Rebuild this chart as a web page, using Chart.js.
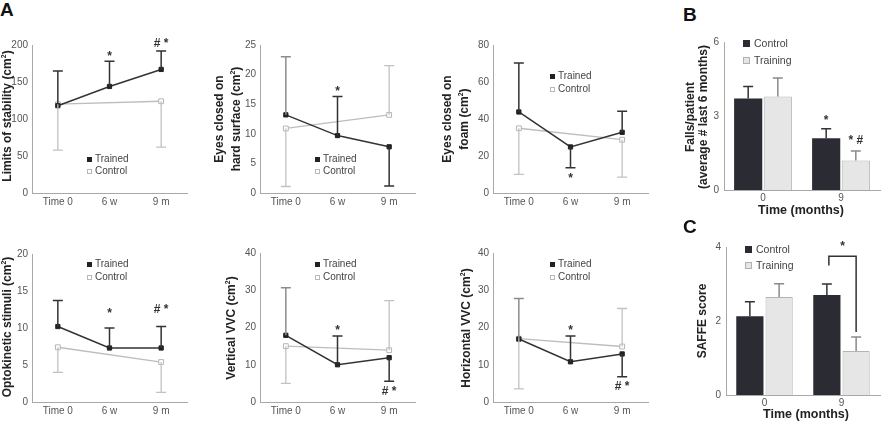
<!DOCTYPE html>
<html><head><meta charset="utf-8">
<script src="https://cdn.jsdelivr.net/npm/chart.js@4.4.1/dist/chart.umd.min.js"></script>
<style>
html,body{margin:0;padding:0;background:#fff;overflow:hidden}
#wrap{position:relative;width:884px;height:424px;font-family:'Liberation Sans',Arial,sans-serif;color:#333}
canvas{position:absolute}
.pl{position:absolute;font-weight:bold;font-size:19px;color:#111;line-height:19px}
.yt{position:absolute;white-space:nowrap;font-weight:bold;font-size:12px;line-height:13px;text-align:center;color:#222;transform:translate(-50%,-50%) rotate(-90deg)}
.xt{position:absolute;white-space:nowrap;font-weight:bold;font-size:12.5px;color:#222;transform:translate(-50%,-50%)}
.lg{position:absolute;font-size:10px;color:#444;white-space:nowrap;transform:translateY(-50%);line-height:12px}
.lg i{display:inline-block;box-sizing:border-box;width:5px;height:5px;margin-right:3px;vertical-align:0px}
.lg i.tr{background:#222}
.lg i.co{background:#fff;border:1px solid #b8b8b8}
.bl{font-size:10.5px}
.bl i{width:7px;height:7px;margin-right:4px}
.bl i.tr{background:#2b2b33}
.bl i.co{background:#e6e6e6;border:1px solid #b0b0b0}
</style>
</head><body>
<div id="wrap"></div>
<script>
// ---------- DATA ----------
const timeLabels = ['Time 0', '6 w', '9 m'];
// SD values: positive = bar drawn above the mean, negative = drawn below
const losTrained = [118, 144, 167];
const losTrainedSD = [47, 34, 25];
const losControl = [120, null, 124];
const losControlSD = [-62, null, -62];
const losSig = ['', '*', '# *'];
const losSigAt = [null, 190, 203];

const hardTrained = [13.2, 9.7, 7.8];
const hardTrainedSD = [9.8, 6.6, -6.6];
const hardControl = [10.9, null, 13.2];
const hardControlSD = [-9.8, null, 8.3];
const hardSig = ['', '*', ''];
const hardSigAt = [null, 17.7, null];

const foamTrained = [43.8, 24.9, 32.8];
const foamTrainedSD = [26.5, -11.2, 11.4];
const foamControl = [35, null, 28.8];
const foamControlSD = [-24.9, null, -20.2];
const foamSig = ['', '*', ''];
const foamSigAt = [null, 10.0, null];

const optoTrained = [10.2, 7.3, 7.3];
const optoTrainedSD = [3.5, 2.7, 2.9];
const optoControl = [7.4, null, 5.4];
const optoControlSD = [-3.4, null, -4.1];
const optoSig = ['', '*', '# *'];
const optoSigAt = [null, 12.4, 12.6];

const vertTrained = [17.9, 10.0, 11.9];
const vertTrainedSD = [12.8, 7.7, -6.3];
const vertControl = [15.0, null, 13.9];
const vertControlSD = [-10.0, null, 13.3];
const vertSig = ['', '*', '# *'];
const vertSigAt = [null, 20.1, 3.2];

const horTrained = [16.9, 10.8, 12.9];
const horTrainedSD = [10.9, 6.9, -6.1];
const horControl = [17.0, null, 14.9];
const horControlSD = [-13.5, null, 10.2];
const horSig = ['', '*', '# *'];
const horSigAt = [null, 20.1, 4.4];

const monthLabels = ['0', '9'];
const fallsControl = [3.71, 2.10];
const fallsControlSD = [0.49, 0.38];
const fallsTraining = [3.79, 1.20];
const fallsTrainingSD = [0.75, 0.38];
const fallsSigControl = ['', '*'];
const fallsSigControlAt = [null, 2.98];
const fallsSigTraining = ['', '* #'];
const fallsSigTrainingAt = [null, 2.03];

const saffeControl = [2.13, 2.70];
const saffeControlSD = [0.39, 0.30];
const saffeTraining = [2.65, 1.19];
const saffeTrainingSD = [0.36, 0.38];
const saffeBracket = [3.75, 3.5, 1.7];   // top, left end, right end
const saffeBracketSigAt = 4.12;

// ---------- RENDERING ----------
const F = "'Liberation Sans', Arial, sans-serif";
const wrap = document.getElementById('wrap');

const errPlugin = {
  id: 'errbars',
  afterDatasetsDraw(chart, args, opts) {
    const ctx = chart.ctx, ys = chart.scales.y;
    chart.data.datasets.forEach((ds, di) => {
      if (!ds.err) return;
      const meta = chart.getDatasetMeta(di);
      meta.data.forEach((el, i) => {
        const v = ds.data[i], e = ds.err[i];
        if (v == null || e == null) return;
        const x = el.x, y0 = ys.getPixelForValue(v), y1 = ys.getPixelForValue(v + e);
        ctx.save();
        ctx.strokeStyle = (ds.errColors && ds.errColors[i]) || ds.errColor;
        ctx.lineWidth = ds.errWidth || 1.5;
        ctx.beginPath();
        ctx.moveTo(x, y0); ctx.lineTo(x, y1);
        ctx.moveTo(x - 5, y1); ctx.lineTo(x + 5, y1);
        ctx.stroke();
        ctx.restore();
      });
    });
    const sig = (opts && opts.sig) || [];
    sig.forEach(s => {
      const meta = chart.getDatasetMeta(s.ds);
      (s.text || []).forEach((t, i) => {
        if (!t) return;
        const x = meta.data[i].x;
        const y = ys.getPixelForValue(s.at[i]);
        ctx.save();
        ctx.font = 'bold 12px ' + F;
        ctx.fillStyle = '#333';
        ctx.textAlign = 'center';
        ctx.textBaseline = 'alphabetic';
        const onlyStar = t.trim() === '*';
        ctx.fillText(t, x, y + (onlyStar ? 0.6 : 0.38) * 12);
        ctx.restore();
      });
    });
    const br = opts && opts.bracket;
    if (br) {
      const xl = chart.getDatasetMeta(br.from[0]).data[br.from[1]].x + 2;
      const xr = chart.getDatasetMeta(br.to[0]).data[br.to[1]].x;
      const yt = ys.getPixelForValue(br.vals[0]);
      ctx.save();
      ctx.strokeStyle = '#333'; ctx.lineWidth = 1.5;
      ctx.beginPath();
      ctx.moveTo(xl, ys.getPixelForValue(br.vals[1]));
      ctx.lineTo(xl, yt); ctx.lineTo(xr, yt);
      ctx.lineTo(xr, ys.getPixelForValue(br.vals[2]));
      ctx.stroke();
      ctx.font = 'bold 12px ' + F; ctx.fillStyle = '#333'; ctx.textAlign = 'center';
      ctx.fillText('*', (xl + xr) / 2, ys.getPixelForValue(br.sigAt) + 0.6 * 12);
      ctx.restore();
    }
  }
};

function makeCanvas(area, YW, PT, PR, XH) {
  const c = document.createElement('canvas');
  const cx = area[0] - YW, cy = area[1] - PT;
  const cw = Math.round(area[2] - area[0] + YW + PR), ch = Math.round(area[3] - area[1] + PT + XH);
  c.width = cw; c.height = ch;
  c.style.left = cx + 'px'; c.style.top = cy + 'px';
  c.style.width = cw + 'px'; c.style.height = ch + 'px';
  wrap.appendChild(c);
  return c;
}

function scaleOpts(YW, XH, yMax, yStep, xPad, yPad) {
  return {
    x: { type: 'category', offset: true, grid: { display: false, drawTicks: false },
         border: { display: true, color: '#a8a8a8', width: 1 },
         ticks: { font: { size: 10, family: F }, color: '#555', padding: xPad, maxRotation: 0, autoSkip: false },
         afterFit(s) { s.height = XH; } },
    y: { min: 0, max: yMax, grid: { display: false, drawTicks: false },
         border: { display: true, color: '#a8a8a8', width: 1 },
         ticks: { stepSize: yStep, font: { size: 10, family: F }, color: '#555', padding: yPad },
         afterFit(s) { s.width = YW; } }
  };
}

function lineChart(area, yMax, yStep, tr, trSD, co, coSD, sig, sigAt, t0Gray) {
  const YW = 30, PT = 22, PR = 12, XH = 20;
  const c = makeCanvas(area, YW, PT, PR, XH);
  const trErrColors = trSD.map((v, i) => (i === 0 && t0Gray) ? '#8c8c8c' : '#333');
  new Chart(c, {
    type: 'line',
    data: {
      labels: timeLabels,
      datasets: [
        { label: 'Trained', data: tr, err: trSD, errColor: '#333', errColors: trErrColors, errWidth: 1.5,
          borderColor: '#333', borderWidth: 1.5, pointStyle: 'rect', pointRadius: 3,
          pointBackgroundColor: '#222', pointBorderColor: '#222', pointBorderWidth: 1, tension: 0, spanGaps: true },
        { label: 'Control', data: co, err: coSD, errColor: '#c2c2c2', errWidth: 1.3,
          borderColor: '#bdbdbd', borderWidth: 1.3, pointStyle: 'rect', pointRadius: 3.4,
          pointBackgroundColor: '#fff', pointBorderColor: '#b5b5b5', pointBorderWidth: 1, tension: 0, spanGaps: true }
      ]
    },
    options: {
      responsive: false, animation: false, events: [],
      layout: { padding: { left: 0, top: PT, right: PR, bottom: 0 } },
      plugins: { legend: { display: false }, tooltip: { enabled: false },
                 errbars: { sig: [{ ds: 0, text: sig, at: sigAt }] } },
      scales: scaleOpts(YW, XH, yMax, yStep, 3, 4)
    },
    plugins: [errPlugin]
  });
}

function barChart(area, yMax, yStep, ctl, ctlSD, trn, trnSD, sig, bracket, barPct) {
  const YW = 30, PT = 12, PR = 4, XH = 16;
  const c = makeCanvas(area, YW, PT, PR, XH);
  new Chart(c, {
    type: 'bar',
    data: {
      labels: monthLabels,
      datasets: [
        { label: 'Control', data: ctl, err: ctlSD, errColor: '#333', errWidth: 1.5,
          backgroundColor: '#2b2b33', borderColor: '#2b2b33', borderWidth: 0,
          categoryPercentage: 0.76, barPercentage: barPct },
        { label: 'Training', data: trn, err: trnSD, errColor: '#8a8a8a', errWidth: 1.5,
          backgroundColor: '#e6e6e6', borderColor: '#b4b4b4', borderWidth: 1,
          categoryPercentage: 0.76, barPercentage: barPct }
      ]
    },
    options: {
      responsive: false, animation: false, events: [],
      layout: { padding: { left: 0, top: PT, right: PR, bottom: 0 } },
      plugins: { legend: { display: false }, tooltip: { enabled: false },
                 errbars: { sig: sig, bracket: bracket } },
      scales: scaleOpts(YW, XH, yMax, yStep, 2, 5)
    },
    plugins: [errPlugin]
  });
}

// Panel A
lineChart([32, 45, 186.5, 193], 200, 50, losTrained, losTrainedSD, losControl, losControlSD, losSig, losSigAt, false);
lineChart([260, 45, 414.5, 193], 25, 5, hardTrained, hardTrainedSD, hardControl, hardControlSD, hardSig, hardSigAt, true);
lineChart([493, 45, 648, 193], 80, 20, foamTrained, foamTrainedSD, foamControl, foamControlSD, foamSig, foamSigAt, false);
lineChart([32, 254, 186.5, 402], 20, 5, optoTrained, optoTrainedSD, optoControl, optoControlSD, optoSig, optoSigAt, false);
lineChart([260, 253.3, 414.5, 402], 40, 10, vertTrained, vertTrainedSD, vertControl, vertControlSD, vertSig, vertSigAt, true);
lineChart([493, 253.3, 648, 402], 40, 10, horTrained, horTrainedSD, horControl, horControlSD, horSig, horSigAt, true);

// Panel B
barChart([724, 42.3, 880, 190], 6, 3, fallsControl, fallsControlSD, fallsTraining, fallsTrainingSD,
  [{ ds: 0, text: fallsSigControl, at: fallsSigControlAt }, { ds: 1, text: fallsSigTraining, at: fallsSigTrainingAt }], null, 0.95);
// Panel C
barChart([726, 246.7, 880, 395], 4, 2, saffeControl, saffeControlSD, saffeTraining, saffeTrainingSD,
  [], { from: [0, 1], to: [1, 1], vals: saffeBracket, sigAt: saffeBracketSigAt }, 0.93);

// ---------- TEXT ----------
function add(cls, html, style) {
  const d = document.createElement('div');
  d.className = cls; d.innerHTML = html;
  Object.assign(d.style, style);
  wrap.appendChild(d);
}
add('pl', 'A', { left: '0px', top: '0px' });
add('pl', 'B', { left: '683px', top: '5px' });
add('pl', 'C', { left: '683px', top: '217px' });

add('yt', 'Limits of stability (cm<sup style="font-size:7px">2</sup>)', { left: '5px', top: '116px' });
add('yt', 'Eyes closed on<br>hard surface (cm<sup style="font-size:7px">2</sup>)', { left: '228px', top: '119px' });
add('yt', 'Eyes closed on<br>foam (cm<sup style="font-size:7px">2</sup>)', { left: '456px', top: '119px' });
add('yt', 'Optokinetic stimuli (cm<sup style="font-size:7px">2</sup>)', { left: '5px', top: '327px' });
add('yt', 'Vertical VVC (cm<sup style="font-size:7px">2</sup>)', { left: '229px', top: '328px' });
add('yt', 'Horizontal VVC (cm<sup style="font-size:7px">2</sup>)', { left: '464px', top: '328px' });
add('yt', 'Falls/patient<br>(average # last 6 months)', { left: '697px', top: '117px' });
add('yt', 'SAFFE score', { left: '702px', top: '321px' });
add('xt', 'Time (months)', { left: '801px', top: '210px' });
add('xt', 'Time (months)', { left: '806px', top: '414px' });

const legendPos = [[87, 159, 171], [315, 159, 171], [550, 76, 89], [87, 264, 277], [315, 264, 277], [550, 264, 277]];
legendPos.forEach(p => {
  add('lg', '<i class="tr"></i>Trained', { left: p[0] + 'px', top: p[1] + 'px' });
  add('lg', '<i class="co"></i>Control', { left: p[0] + 'px', top: p[2] + 'px' });
});
add('lg bl', '<i class="tr"></i>Control', { left: '743px', top: '43px' });
add('lg bl', '<i class="co"></i>Training', { left: '743px', top: '60px' });
add('lg bl', '<i class="tr"></i>Control', { left: '745px', top: '249px' });
add('lg bl', '<i class="co"></i>Training', { left: '745px', top: '265px' });
</script>
</body></html>
